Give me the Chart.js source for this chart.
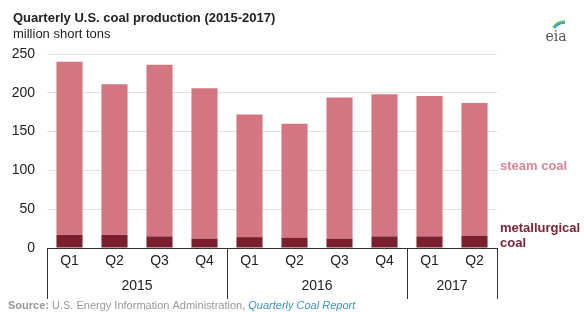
<!DOCTYPE html>
<html lang="en">
<head>
    <meta charset="UTF-8">
    <title>Quarterly U.S. coal production (2015-2017)</title>
    <script src="https://cdn.jsdelivr.net/npm/chart.js"></script>
    <style>
        body { margin: 0; background: #fff; }
        canvas { display: block; }
    </style>
</head>
<body>
    <canvas id="coalChart" width="584" height="312"></canvas>

    <script>
        // data (million short tons)
        const quarters = ['Q1', 'Q2', 'Q3', 'Q4', 'Q1', 'Q2', 'Q3', 'Q4', 'Q1', 'Q2'];
        const years = ['2015', '2015', '2015', '2015', '2016', '2016', '2016', '2016', '2017', '2017'];
        const metCoal = [17, 17, 15, 12, 14, 13, 12, 15, 15, 16];
        const steamCoal = [223, 194, 221, 194, 158, 147, 182, 183, 181, 171];
        const yTicks = [0, 50, 100, 150, 200, 250];

        const FONT = 'Liberation Sans, Arial, sans-serif';
        const STEAM = '#d47682';
        const MET = '#7a1f2d';

        // title, year groups, series labels, source line
        const decorations = {
            id: 'decorations',
            afterDraw(chart) {
                const ctx = chart.ctx;
                const x = chart.scales.x;
                const area = chart.chartArea;
                const half = (x.getPixelForValue(1) - x.getPixelForValue(0)) / 2;
                ctx.save();

                ctx.fillStyle = '#222';
                ctx.textBaseline = 'alphabetic';
                ctx.textAlign = 'left';
                ctx.font = 'bold 13px ' + FONT;
                ctx.fillText('Quarterly U.S. coal production (2015-2017)', 13, 22);
                ctx.font = '13px ' + FONT;
                ctx.fillText('million short tons', 13, 38);

                // year group labels
                let start = 0;
                for (let i = 1; i <= years.length; i++) {
                    if (i === years.length || years[i] !== years[start]) {
                        const left = x.getPixelForValue(start) - half;
                        const right = x.getPixelForValue(i - 1) + half;
                        ctx.font = '14px ' + FONT;
                        ctx.fillStyle = '#222';
                        ctx.textAlign = 'center';
                        ctx.textBaseline = 'middle';
                        ctx.fillText(years[start], (left + right) / 2, 286);
                        start = i;
                    }
                }

                // separators between year groups
                ctx.strokeStyle = '#333';
                ctx.lineWidth = 1;
                const bounds = [0];
                years.forEach((yr, i) => { if (i > 0 && yr !== years[i - 1]) bounds.push(i); });
                bounds.push(years.length);
                bounds.forEach(b => {
                    const px = Math.round(x.getPixelForValue(b) - half) + 0.5;
                    ctx.beginPath();
                    ctx.moveTo(px, area.bottom);
                    ctx.lineTo(px, 299);
                    ctx.stroke();
                });

                // series labels to the right of the last bar
                ctx.textAlign = 'left';
                ctx.textBaseline = 'middle';
                ctx.font = 'bold 13px ' + FONT;
                ctx.fillStyle = '#d98797';
                ctx.fillText('steam coal', 500, 166);
                ctx.fillStyle = '#7a2436';
                ctx.fillText('metallurgical', 500, 228);
                ctx.fillText('coal', 500, 243);

                // source line
                ctx.textBaseline = 'alphabetic';
                ctx.font = 'bold 11px ' + FONT;
                ctx.fillStyle = '#999';
                ctx.fillText('Source:', 8, 309);
                let sx = 8 + ctx.measureText('Source: ').width;
                ctx.font = '11px ' + FONT;
                const src = 'U.S. Energy Information Administration, ';
                ctx.fillText(src, sx, 309);
                sx += ctx.measureText(src).width;
                ctx.font = 'italic 11px ' + FONT;
                ctx.fillStyle = '#3f95c2';
                ctx.fillText('Quarterly Coal Report', sx, 309);

                // eia mark
                ctx.font = '14px DejaVu Serif, serif';
                ctx.fillStyle = '#555';
                ctx.textAlign = 'center';
                ctx.fillText('eia', 556, 41);
                ctx.lineWidth = 1.5;
                [['#8cc63f', 15], ['#3bb3a8', 14], ['#2a9fd6', 13]].forEach(([c, r]) => {
                    ctx.strokeStyle = c;
                    ctx.beginPath();
                    ctx.arc(565, 36, r, Math.PI * 1.2, Math.PI * 1.5);
                    ctx.stroke();
                });
                ctx.restore();
            }
        };

        new Chart(document.getElementById('coalChart'), {
            type: 'bar',
            data: {
                labels: quarters,
                datasets: [
                    { label: 'metallurgical coal', data: metCoal, backgroundColor: MET },
                    { label: 'steam coal', data: steamCoal, backgroundColor: STEAM }
                ]
            },
            options: {
                responsive: false,
                animation: false,
                layout: { padding: { top: 54, right: 87, bottom: 0, left: 0 } },
                datasets: { bar: { categoryPercentage: 1, barPercentage: 0.58 } },
                plugins: { legend: { display: false }, tooltip: { enabled: false } },
                scales: {
                    x: {
                        stacked: true,
                        grid: { display: false, drawTicks: false },
                        border: { display: true, color: '#333', width: 1 },
                        ticks: { color: '#222', padding: 5, font: { family: FONT, size: 14 } },
                        afterFit: s => { s.height = 64; }
                    },
                    y: {
                        stacked: true,
                        min: 0,
                        max: 250,
                        afterBuildTicks: s => { s.ticks = yTicks.map(v => ({ value: v })); },
                        grid: { color: '#e2e2e2', drawTicks: false },
                        border: { display: false },
                        ticks: { color: '#222', padding: 12, font: { family: FONT, size: 14 } },
                        afterFit: s => { s.width = 47; }
                    }
                }
            },
            plugins: [decorations]
        });
    </script>
</body>
</html>
